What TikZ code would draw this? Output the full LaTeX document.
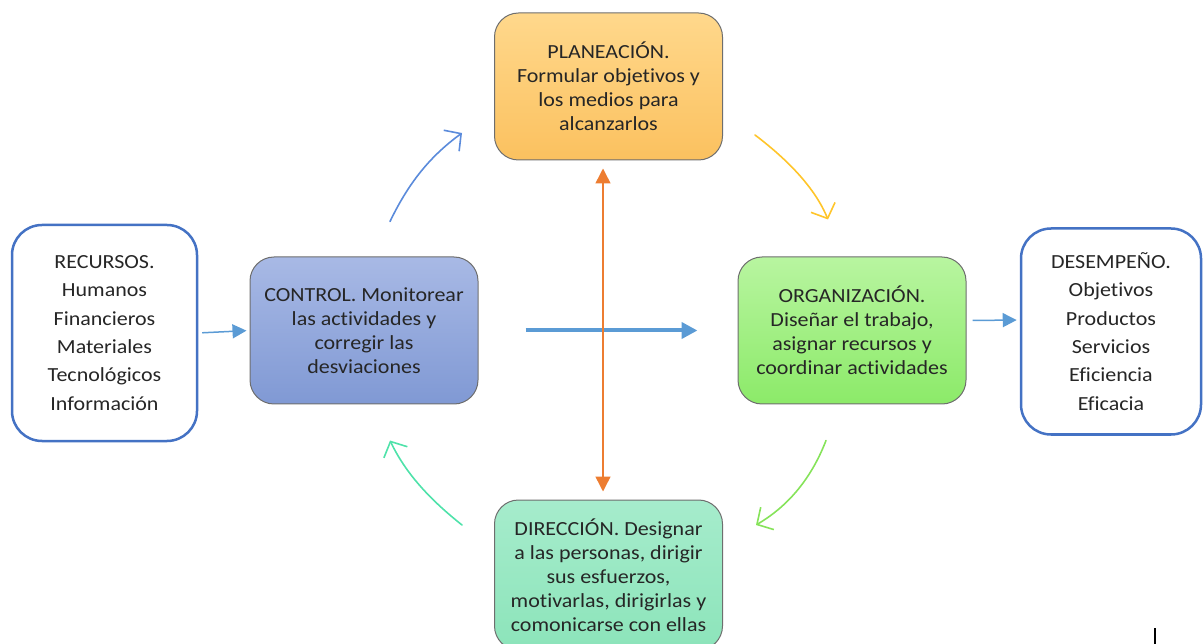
\documentclass[tikz,border=0pt]{standalone}
\usepackage{fontspec}
\setmainfont{Carlito}[Ligatures=NoCommon, FakeStretch=1.1]
\usetikzlibrary{arrows.meta,calc}

\definecolor{txt}{HTML}{262626}
\definecolor{frameblue}{HTML}{4472C4}
\definecolor{arrowblue}{HTML}{5B9BD5}
\definecolor{curveblue}{HTML}{5B8BDB}
\definecolor{curveyellow}{HTML}{FFC52A}
\definecolor{curvegreen}{HTML}{86E35A}
\definecolor{curveteal}{HTML}{4FE2AA}
\definecolor{orangeline}{HTML}{ED7D31}
\definecolor{boxedge}{HTML}{6E6E6E}

\tikzset{
  sidebox/.style={draw=frameblue, line width=2.5pt, fill=white, rounded corners=30pt,
    text=txt, align=center, inner sep=0pt,
    font=\fontsize{20}{28.3}\selectfont},
  stagebox/.style={draw=boxedge, line width=1pt, rounded corners=24pt,
    minimum width=228pt, minimum height=147pt, text=txt, align=center, inner sep=0pt,
    font=\fontsize{20}{24}\selectfont},
  thinarrow/.style={draw=arrowblue, line width=1.5pt,
    -{Triangle[length=14pt,width=14pt]}},
  cyclearrow/.style={line width=1.6pt, line cap=round,
    -{Straight Barb[length=12pt,width=26pt]}}
}

\begin{document}
\begin{tikzpicture}[x=1pt,y=-1pt]
\useasboundingbox (0,0) rectangle (1203,644);
\clip (0,0) rectangle (1203,644);

% side boxes: inputs and results
\node[sidebox, minimum width=185pt, minimum height=216pt] (rec) at (104.5,333)
  {RECURSOS.\\Humanos\\Financieros\\Materiales\\Tecnológicos\\Información};
\node[sidebox, minimum width=180pt, minimum height=206pt] (des) at (1111,331.5)
  {DESEMPEÑO.\\Objetivos\\Productos\\Servicios\\Eficiencia\\Eficacia};

% the four stages of the management cycle
\node[stagebox, top color={rgb,255:red,255;green,216;blue,140}, bottom color={rgb,255:red,251;green,193;blue,95}]
  (pla) at (608.5,86.5)
  {PLANEACIÓN.\\Formular objetivos y\\los medios para\\alcanzarlos};
\node[stagebox, top color={rgb,255:red,168;green,185;blue,229}, bottom color={rgb,255:red,128;green,153;blue,212}]
  (ctl) at (364,330.5)
  {CONTROL. Monitorear\\las actividades y\\corregir las\\desviaciones};
\node[stagebox, top color={rgb,255:red,184;green,245;blue,160}, bottom color={rgb,255:red,140;green,234;blue,105}]
  (org) at (852,330.5)
  {ORGANIZACIÓN.\\Diseñar el trabajo,\\asignar recursos y\\coordinar actividades};
\node[stagebox, minimum height=150pt, top color={rgb,255:red,166;green,236;blue,204}, bottom color={rgb,255:red,140;green,228;blue,186}]
  (dir) at (608.5,575)
  {DIRECCIÓN. Designar\\a las personas, dirigir\\sus esfuerzos,\\motivarlas, dirigirlas y\\comonicarse con ellas};

% straight connectors
\draw[thinarrow, shorten <=4pt, shorten >=3pt] (rec.east) -- (ctl.west);
\draw[thinarrow] ($(org.east)+(6,-10)$) -- ($(des.west)+(-3,-11.5)$);
\draw[draw=arrowblue, line width=4pt, -{Triangle[length=16pt,width=16pt]},
  shorten <=47pt, shorten >=40pt] (ctl.east) -- (org.west);
\draw[draw=orangeline, line width=1.5pt,
  {Triangle[length=15pt,width=15pt]}-{Triangle[length=15pt,width=15pt]},
  shorten <=8pt, shorten >=8pt] ([xshift=-5.5pt]pla.south) -- ([xshift=-5.5pt]dir.north);

% curved arrows of the cycle
\draw[cyclearrow, curveblue] ($(ctl.north)+(26,-35)$)
  .. controls (410,180) and (432,155) .. ($(pla.west)+(-32,46.5)$);
\draw[cyclearrow, curveyellow] ($(pla.east)+(32,48.5)$)
  .. controls (788,160) and (815,188) .. ($(org.north)+(-24,-37)$);
\draw[cyclearrow, curvegreen] ($(org.south)+(-26,36)$)
  .. controls (810,482) and (785,508) .. ($(dir.east)+(33,-50)$);
\draw[cyclearrow, curveteal] ($(dir.west)+(-32,-50)$)
  .. controls (428,498) and (405,472) .. ($(ctl.south)+(26,36)$);

% text cursor mark
\draw[black, line width=1.5pt] (1155,628) -- (1155,644);
\end{tikzpicture}
\end{document}
